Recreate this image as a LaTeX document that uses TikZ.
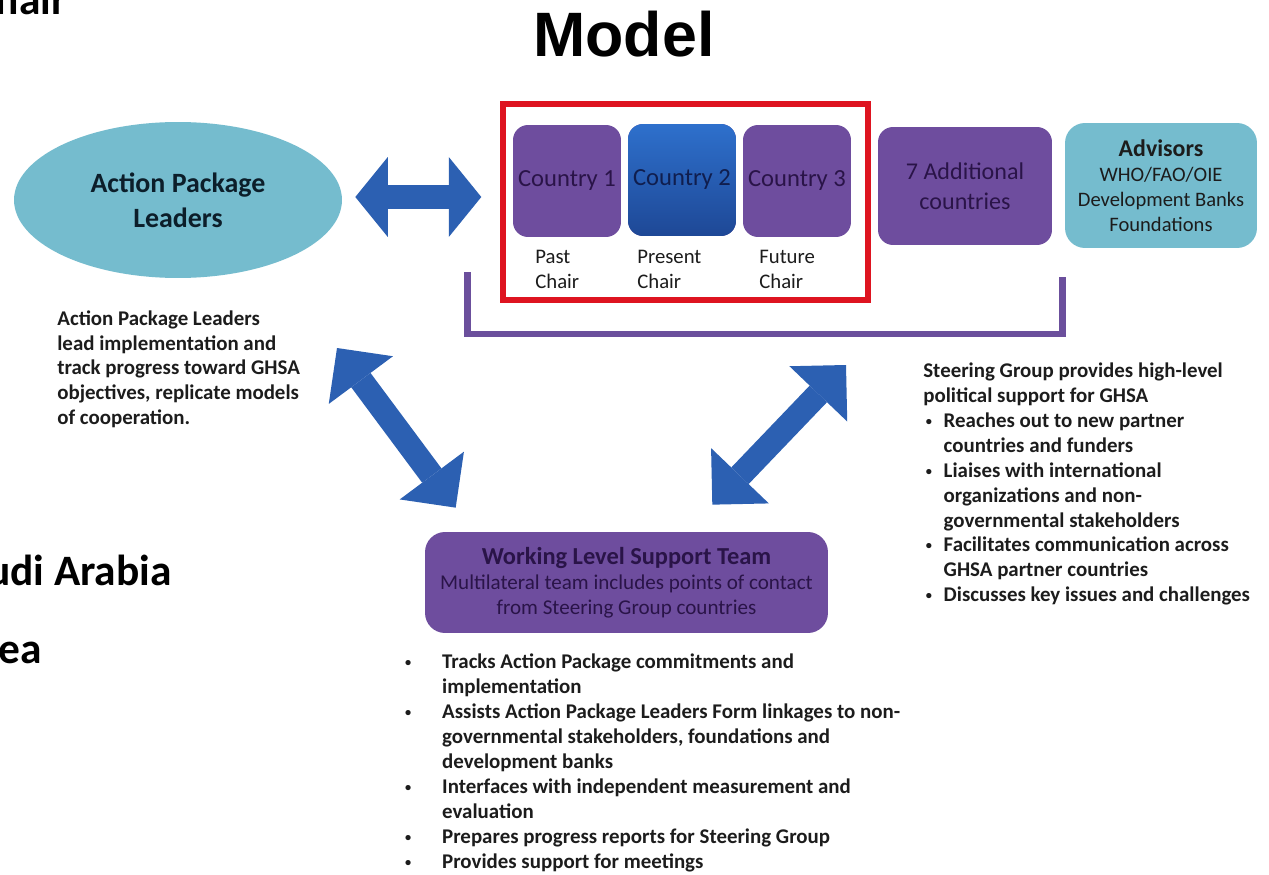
\documentclass[tikz,border=0pt]{standalone}
\usepackage{fontspec}
\setmainfont{Carlito}
\newfontfamily\titlefont{Liberation Sans}
\usetikzlibrary{arrows.meta,calc,shapes.geometric}

\definecolor{arrowblue}{RGB}{44,96,178}
\definecolor{boxpurple}{RGB}{110,77,158}
\definecolor{bracketpurple}{RGB}{107,79,156}
\definecolor{paleblue}{RGB}{117,188,206}
\definecolor{framered}{RGB}{222,20,32}
\definecolor{chairtop}{RGB}{46,112,204}
\definecolor{chairbot}{RGB}{30,72,150}
\definecolor{inkpurple}{RGB}{42,20,72}
\definecolor{inknavy}{RGB}{16,30,78}
\definecolor{inkteal}{RGB}{12,30,42}
\definecolor{inkdark}{RGB}{28,28,28}

% small list dot
\newcommand\listdot{\raisebox{0.2ex}{\fontsize{7}{7}\selectfont\textbullet}}

\begin{document}
\begin{tikzpicture}[x=0.02cm, y=-0.02cm, line join=miter]

% ---------------- styles ----------------
\tikzset{
  purplebox/.style={fill=boxpurple, rounded corners=0.3cm, inner sep=0pt, align=center, text=inkpurple},
  palebox/.style={fill=paleblue, rounded corners=0.4cm, inner sep=0pt, align=center, text=inkdark},
  country/.style={purplebox, minimum width=2.16cm, minimum height=2.24cm, font=\fontsize{14}{17}\selectfont},
  chairlbl/.style={anchor=north west, inner sep=0pt, align=left, text=inkdark, font=\fontsize{11.8}{14.2}\selectfont},
  notes/.style={anchor=north west, inner sep=0pt, align=left, text=inkdark, font=\fontsize{11.9}{14.2}\selectfont\bfseries},
  cutoff/.style={anchor=base east, inner sep=0pt, font=\fontsize{24.7}{29}\selectfont\bfseries},
  bigarrow/.style={arrowblue, line width=0.48cm,
    arrows={Triangle[length=#1 0 0, width=1.6cm 0 0, line width=0pt 0 0]-Triangle[length=#1 0 0, width=1.6cm 0 0, line width=0pt 0 0]}},
  bigarrow/.default=0.8cm,
  bracketline/.style={draw=bracketpurple, line width=0.14cm}
}

% ---------------- page ----------------
\fill[white] (0,0) rectangle (1269,875);
\useasboundingbox (0,0) rectangle (1269,875);

% title and text cut at the left edge
\node[inner sep=0pt, anchor=base west, font=\titlefont\fontsize{35.7}{40}\selectfont\bfseries] (model) at (533,57) {Model};
\node[cutoff] (hair) at (67,15) {hair};
\node[cutoff] (arabia) at (172,585) {udi Arabia};
\node[cutoff] (korea) at (42,663) {ea};

% ---------------- action package leaders ----------------
\node[ellipse, fill=paleblue, minimum width=6.56cm, minimum height=3.12cm, inner sep=0pt, align=center,
      text=inkteal, font=\fontsize{15.9}{19.8}\selectfont\bfseries] (apl) at (178,200) {Action Package\\Leaders};

\node[notes] (apltext) at (57,310) {Action Package Leaders\\lead implementation and\\track progress toward GHSA\\objectives, replicate models\\of cooperation.};

% ---------------- steering group ----------------
\node[draw=framered, line width=0.11cm, minimum width=7.3cm, minimum height=3.92cm, inner sep=0pt] (chairs) at (685.5,202) {};
\node[country] (c1) at (567,181) {Country 1};
\node[country, top color=chairtop, bottom color=chairbot, text=inknavy] (c2) at (682,180) {Country 2};
\node[country] (c3) at (797,181) {Country 3};

\node[chairlbl] (past) at (535,250) {Past\\Chair};
\node[chairlbl] (present) at (637,250) {Present\\Chair};
\node[chairlbl] (future) at (759,250) {Future\\Chair};

\node[purplebox, minimum width=3.48cm, minimum height=2.36cm, font=\fontsize{13.7}{17}\selectfont] (addl) at (965,186) {7 Additional\\countries};
\node[palebox, minimum width=3.84cm, minimum height=2.5cm, font=\fontsize{11.7}{14.2}\selectfont] (adv) at (1161,185.5)
  {{\fontsize{13.6}{14.2}\selectfont\bfseries Advisors}\\WHO/FAO/OIE\\Development Banks\\Foundations};

% bracket under chairs and additional countries
\coordinate (brL) at (467,272);
\coordinate (brM) at (765,334);
\coordinate (brR) at (1062,277);
\draw[bracketline] (brL) |- (brM) -| (brR);

\node[notes] (sgtext) at (923,359.5) {\begin{tabular}{@{}p{11.6pt}@{}l@{}}
\multicolumn{2}{@{}l@{}}{Steering Group provides high-level}\\
\multicolumn{2}{@{}l@{}}{political support for GHSA}\\
\hspace*{1.5pt}\listdot & Reaches out to new partner\\
 & countries and funders\\
\hspace*{1.5pt}\listdot & Liaises with international\\
 & organizations and non-\\
 & governmental stakeholders\\
\hspace*{1.5pt}\listdot & Facilitates communication across\\
 & GHSA partner countries\\
\hspace*{1.5pt}\listdot & Discusses key issues and challenges
\end{tabular}};

% ---------------- working level ----------------
\node[purplebox, rounded corners=0.4cm, minimum width=8.06cm, minimum height=2.02cm, font=\fontsize{12}{14.2}\selectfont] (wl) at (626.5,582.5)
  {{\fontsize{13.9}{14.2}\selectfont\bfseries Working Level Support Team}\\Multilateral team includes points of contact\\from Steering Group countries};

\node[notes] (wltext) at (403,651) {\begin{tabular}{@{}p{22.1pt}@{}l@{}}
\hspace*{1pt}\listdot & Tracks Action Package commitments and\\
 & implementation\\
\hspace*{1pt}\listdot & Assists Action Package Leaders Form linkages to non-\\
 & governmental stakeholders, foundations and\\
 & development banks\\
\hspace*{1pt}\listdot & Interfaces with independent measurement and\\
 & evaluation\\
\hspace*{1pt}\listdot & Prepares progress reports for Steering Group\\
\hspace*{1pt}\listdot & Provides support for meetings
\end{tabular}};

% ---------------- arrows ----------------
\coordinate (aplLink) at (337,348);
\coordinate (sgLink) at (846,365);
\draw[bigarrow=0.65cm] ($(apl.east)+(13,-3)$) -- ($(chairs.west)+(-19,-5)$);
\draw[bigarrow] (aplLink) -- ($(wl.north west)+(31,-24)$);
\draw[bigarrow] (sgLink) -- ($(wl.north east)+(-116,-27)$);

\end{tikzpicture}
\end{document}
